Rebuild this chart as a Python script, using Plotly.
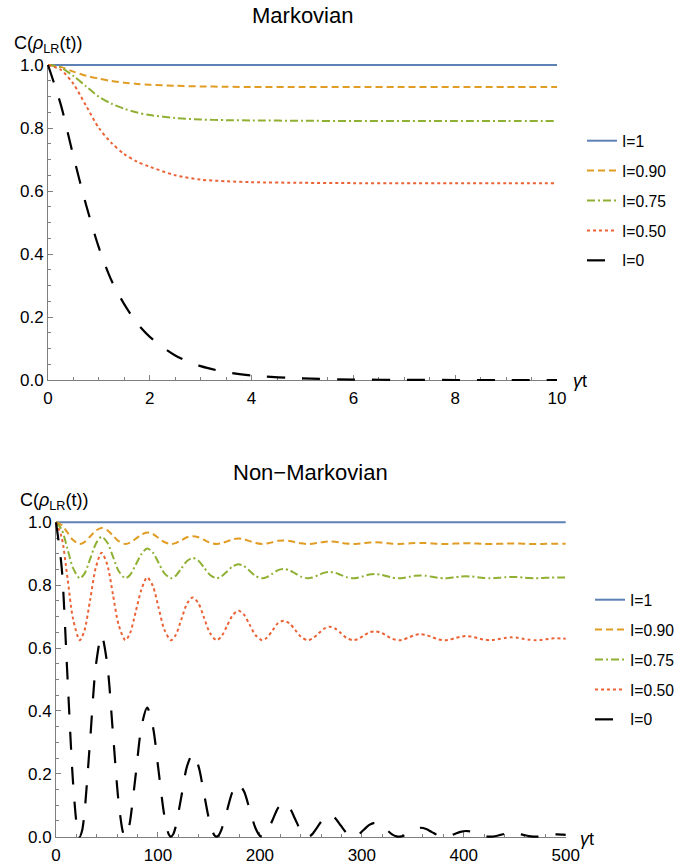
import plotly.graph_objects as go

# ---------------- Markovian panel (x = gamma t, 0..10) ----------------
mk_t = [0, 0.25, 0.5, 0.75, 1.0, 1.25, 1.5, 1.75, 2.0, 2.5, 3.0, 3.5, 4.0, 5.0, 6.0, 7.0, 8.0, 9.0, 10.0]
mk_I1_t = [0, 10]
mk_I1 = [1.0, 1.0]
mk_I090 = [1.0, 0.994, 0.979, 0.966, 0.957, 0.949, 0.944, 0.940, 0.937, 0.934, 0.932, 0.931,
           0.930, 0.930, 0.930, 0.930, 0.930, 0.930, 0.930]
mk_I075 = [1.0, 0.992, 0.965, 0.932, 0.899, 0.877, 0.861, 0.849, 0.841, 0.832, 0.827, 0.825,
           0.824, 0.823, 0.822, 0.822, 0.822, 0.822, 0.822]
mk_I050 = [1.0, 0.985, 0.940, 0.870, 0.800, 0.752, 0.717, 0.693, 0.677, 0.650, 0.636, 0.631,
           0.628, 0.626, 0.625, 0.625, 0.625, 0.625, 0.625]
mk_I0 = [1.0, 0.875, 0.710, 0.555, 0.420, 0.315, 0.240, 0.180, 0.137, 0.078, 0.044, 0.025,
         0.014, 0.005, 0.0015, 0.0005, 0.0, 0.0, 0.0]

# ---------------- Non-Markovian panel (x = gamma t, 0..500) ----------------
nm_I1_t = [0, 500]
nm_I1 = [1.0, 1.0]

nm_t = [
    0, 5.59, 11.18, 16.76, 23.35, 27.94, 33.53, 39.11,
    44.7, 50.29, 55.88, 61.46, 68.05, 72.64, 78.23, 83.81,
    89.4, 94.99, 100.58, 106.16, 112.75, 117.34, 122.93, 128.51,
    134.1, 139.69, 145.28, 150.86, 157.45, 162.04, 167.63, 173.21,
    178.8, 184.39, 189.98, 195.56, 202.15, 206.74, 212.33, 217.91,
    223.5, 229.09, 234.68, 240.26, 246.85, 251.44, 257.03, 262.61,
    268.2, 273.79, 279.38, 284.96, 291.55, 296.14, 301.73, 307.31,
    312.9, 318.49, 324.08, 329.66, 336.25, 340.84, 346.43, 352.01,
    357.6, 363.19, 368.78, 374.36, 380.95, 385.54, 391.13, 396.71,
    402.3, 407.89, 413.48, 419.06, 425.65, 430.24, 435.83, 441.41,
    447.0, 452.59, 458.18, 463.76, 470.35, 474.94, 480.53, 486.11,
    491.7, 497.29, 500,
]
nm_I090 = [
    1.0, 0.9911, 0.9677, 0.9434, 0.931, 0.9368, 0.9548, 0.9737,
    0.9821, 0.9751, 0.9577, 0.9399, 0.931, 0.9351, 0.9477, 0.9607,
    0.9678, 0.9628, 0.9502, 0.9374, 0.931, 0.9339, 0.943, 0.9524,
    0.956, 0.9526, 0.9441, 0.9354, 0.931, 0.933, 0.9392, 0.9456,
    0.9483, 0.946, 0.94, 0.934, 0.931, 0.9324, 0.9367, 0.9411,
    0.9424, 0.9408, 0.9369, 0.933, 0.931, 0.9319, 0.9347, 0.9376,
    0.9389, 0.9379, 0.9351, 0.9324, 0.931, 0.9316, 0.9336, 0.9356,
    0.9362, 0.9355, 0.9337, 0.9319, 0.931, 0.9314, 0.9327, 0.934,
    0.9345, 0.934, 0.9328, 0.9316, 0.931, 0.9313, 0.9322, 0.933,
    0.9334, 0.9331, 0.9323, 0.9314, 0.931, 0.9312, 0.9318, 0.9324,
    0.9327, 0.9324, 0.9319, 0.9313, 0.931, 0.9311, 0.9315, 0.932,
    0.9321, 0.932, 0.9318,
]
nm_I075 = [
    1.0, 0.9771, 0.9167, 0.854, 0.822, 0.8369, 0.8834, 0.9321,
    0.9539, 0.9359, 0.8909, 0.8451, 0.822, 0.8325, 0.8651, 0.8987,
    0.9169, 0.9039, 0.8716, 0.8386, 0.822, 0.8296, 0.853, 0.8771,
    0.8866, 0.8778, 0.8558, 0.8333, 0.822, 0.8272, 0.8431, 0.8596,
    0.8667, 0.8606, 0.8453, 0.8298, 0.822, 0.8256, 0.8366, 0.848,
    0.8514, 0.8474, 0.8373, 0.8271, 0.822, 0.8243, 0.8316, 0.8391,
    0.8425, 0.8397, 0.8327, 0.8256, 0.822, 0.8236, 0.8287, 0.8339,
    0.8354, 0.8335, 0.829, 0.8243, 0.822, 0.8231, 0.8264, 0.8298,
    0.8311, 0.8298, 0.8267, 0.8236, 0.822, 0.8227, 0.825, 0.8273,
    0.8282, 0.8274, 0.8253, 0.8231, 0.822, 0.8225, 0.824, 0.8256,
    0.8263, 0.8257, 0.8242, 0.8227, 0.822, 0.8223, 0.8234, 0.8245,
    0.8248, 0.8245, 0.8241,
]
nm_I050 = [
    1.0, 0.9517, 0.8245, 0.6923, 0.625, 0.6563, 0.7543, 0.857,
    0.9029, 0.8649, 0.7702, 0.6736, 0.625, 0.6472, 0.7158, 0.7865,
    0.8249, 0.7976, 0.7294, 0.6599, 0.625, 0.641, 0.6903, 0.7412,
    0.7611, 0.7425, 0.6961, 0.6488, 0.625, 0.6359, 0.6695, 0.7041,
    0.7191, 0.7063, 0.6742, 0.6415, 0.625, 0.6325, 0.6558, 0.6797,
    0.6869, 0.6784, 0.6573, 0.6358, 0.625, 0.63, 0.6452, 0.661,
    0.6681, 0.6622, 0.6475, 0.6325, 0.625, 0.6285, 0.6391, 0.6501,
    0.6531, 0.6493, 0.6397, 0.6299, 0.625, 0.6273, 0.6342, 0.6414,
    0.6441, 0.6415, 0.635, 0.6283, 0.625, 0.6265, 0.6313, 0.6361,
    0.6381, 0.6363, 0.6319, 0.6273, 0.625, 0.6261, 0.6293, 0.6326,
    0.634, 0.6328, 0.6297, 0.6266, 0.625, 0.6257, 0.6279, 0.6303,
    0.631, 0.6302, 0.6295,
]

nm_I0_t = [
    0, 5.59, 11.18, 16.76, 21.15, 23.35, 25.55, 27.94, 33.53, 39.11,
    44.7, 50.29, 55.88, 61.46, 65.85, 68.05, 70.25, 72.64, 78.23, 83.81,
    89.4, 94.99, 100.58, 106.16, 110.55, 112.75, 114.95, 117.34, 122.93, 128.51,
    134.1, 139.69, 145.28, 150.86, 155.25, 157.45, 159.65, 162.04, 167.63, 173.21,
    178.8, 184.39, 189.98, 195.56, 199.95, 202.15, 204.35, 206.74, 212.33, 217.91,
    223.5, 229.09, 234.68, 240.26, 244.65, 246.85, 249.05, 251.44, 257.03, 262.61,
    268.2, 273.79, 279.38, 284.96, 289.35, 291.55, 293.75, 296.14, 301.73, 307.31,
    312.9, 318.49, 324.08, 329.66, 334.05, 336.25, 338.45, 340.84, 346.43, 352.01,
    357.6, 363.19, 368.78, 374.36, 378.75, 380.95, 383.15, 385.54, 391.13, 396.71,
    402.3, 407.89, 413.48, 419.06, 423.45, 425.65, 427.85, 430.24, 435.83, 441.41,
    447.0, 452.59, 458.18, 463.76, 468.15, 470.35, 472.55, 474.94, 480.53, 486.11,
    491.7, 497.29, 500,
]
nm_I0 = [
    1.0, 0.8555, 0.5129, 0.1699, 0.0194, 0.0, 0.0186, 0.0762, 0.3091, 0.5448,
    0.6408, 0.5482, 0.3287, 0.1089, 0.0125, 0.0, 0.0119, 0.0488, 0.1981, 0.3491,
    0.4106, 0.3513, 0.2106, 0.0698, 0.0080, 0.0, 0.0076, 0.0313, 0.1269, 0.2237,
    0.2631, 0.2251, 0.1349, 0.0447, 0.0051, 0.0, 0.0049, 0.0200, 0.0813, 0.1433,
    0.1686, 0.1442, 0.0865, 0.0286, 0.0033, 0.0, 0.0031, 0.0128, 0.0521, 0.0919,
    0.1080, 0.0924, 0.0554, 0.0183, 0.0021, 0.0, 0.0020, 0.0082, 0.0334, 0.0588,
    0.0692, 0.0592, 0.0355, 0.0118, 0.0013, 0.0, 0.0013, 0.0053, 0.0214, 0.0377,
    0.0444, 0.0380, 0.0228, 0.0075, 0.0009, 0.0, 0.0008, 0.0034, 0.0137, 0.0242,
    0.0284, 0.0243, 0.0146, 0.0048, 0.0006, 0.0, 0.0005, 0.0022, 0.0088, 0.0155,
    0.0182, 0.0156, 0.0093, 0.0031, 0.0004, 0.0, 0.0003, 0.0014, 0.0056, 0.0099,
    0.0117, 0.0100, 0.0060, 0.0020, 0.0002, 0.0, 0.0002, 0.0009, 0.0036, 0.0064,
    0.0075, 0.0064, 0.0058,
]

series_names = ["I=1", "I=0.90", "I=0.75", "I=0.50", "I=0"]
x_ticks_top = [0, 2, 4, 6, 8, 10]
x_ticks_bottom = [0, 100, 200, 300, 400, 500]
y_ticks = [0.0, 0.2, 0.4, 0.6, 0.8, 1.0]

# ---------------- styling ----------------
W, H = 677, 866
FONT = "Liberation Sans, Arial, sans-serif"
AXIS_GRAY = "#7f7f7f"
STYLES = [
    dict(color="#5E81B5", width=2, dash="solid"),
    dict(color="#E19C24", width=2, dash="7px,4px"),
    dict(color="#8FB032", width=2, dash="8px,3px,2px,3px"),
    dict(color="#EB6235", width=2, dash="3px,3px"),
    dict(color="#000000", width=2.2, dash="18px,17px"),
]
PAD = 6  # extra room around each plot area so lines on the frame edges are not clipped

# pixel geometry of the two plot areas: left, right, y=1 row, y=0 row
PANELS = [
    dict(x0=48, x1=557, ytop=65, ybot=380, xmax=10, mdtick=0.5, ticks=x_ticks_top),
    dict(x0=56, x1=565.7, ytop=522.3, ybot=836.7, xmax=500, mdtick=20, ticks=x_ticks_bottom),
]

fig = go.Figure()
layout = dict(
    width=W, height=H,
    margin=dict(l=0, r=0, t=0, b=0, autoexpand=False),
    paper_bgcolor="white",
    plot_bgcolor="rgba(0,0,0,0)",
    font=dict(family=FONT, color="black"),
    showlegend=True,
)

for i, p in enumerate(PANELS):
    fx, fy = ("x", "y") if i == 0 else ("x2", "y2")
    dx, dy = ("x3", "y3") if i == 0 else ("x4", "y4")
    xpx = (p["x1"] - p["x0"]) / p["xmax"]
    ypx = p["ybot"] - p["ytop"]
    common = dict(showline=True, linecolor=AXIS_GRAY, linewidth=1, ticks="inside",
                  ticklen=5, tickwidth=1, tickcolor=AXIS_GRAY, showgrid=False,
                  zeroline=False, fixedrange=True,
                  tickfont=dict(size=17, family=FONT, color="black"))
    layout["xaxis" + ("" if i == 0 else "2")] = dict(
        common, domain=[p["x0"] / W, p["x1"] / W], range=[0, p["xmax"]], anchor=fy,
        tickmode="array", tickvals=p["ticks"], ticktext=[str(v) for v in p["ticks"]],
        ticklabelstandoff=3,
        minor=dict(ticks="inside", ticklen=3, tickcolor=AXIS_GRAY, dtick=p["mdtick"], tick0=0),
    )
    layout["yaxis" + ("" if i == 0 else "2")] = dict(
        common, domain=[(H - p["ybot"]) / H, (H - p["ytop"]) / H], range=[0, 1], anchor=fx,
        tickmode="array", tickvals=y_ticks, ticktext=[f"{v:.1f}" for v in y_ticks],
        minor=dict(ticks="inside", ticklen=3, tickcolor=AXIS_GRAY, dtick=0.05, tick0=0),
    )
    layout["xaxis" + dx[1:]] = dict(
        domain=[(p["x0"] - PAD) / W, (p["x1"] + PAD) / W],
        range=[-PAD / xpx, p["xmax"] + PAD / xpx], anchor=dy, visible=False, fixedrange=True,
    )
    layout["yaxis" + dy[1:]] = dict(
        domain=[(H - p["ybot"] - PAD) / H, (H - p["ytop"] + PAD) / H],
        range=[-PAD / ypx, 1 + PAD / ypx], anchor=dx, visible=False, fixedrange=True,
    )
    fig.add_trace(go.Scatter(x=[None], y=[None], xaxis=fx, yaxis=fy, showlegend=False,
                             hoverinfo="skip"))

top_series = [(mk_I1_t, mk_I1), (mk_t, mk_I090), (mk_t, mk_I075), (mk_t, mk_I050), (mk_t, mk_I0)]
bottom_series = [(nm_I1_t, nm_I1), (nm_t, nm_I090), (nm_t, nm_I075), (nm_t, nm_I050), (nm_I0_t, nm_I0)]

for series, xa, ya, leg in [(top_series, "x3", "y3", "legend"), (bottom_series, "x4", "y4", "legend2")]:
    for k, ((xs, ys), name, st) in enumerate(zip(series, series_names, STYLES)):
        fig.add_trace(go.Scatter(
            x=xs, y=ys, mode="lines", name=name, xaxis=xa, yaxis=ya,
            line=dict(color=st["color"], width=st["width"], dash=st["dash"],
                      shape="spline", smoothing=0.8),
            legend=leg, legendgroup=f"{leg}-{k}", hoverinfo="skip",
        ))

legend_common = dict(xanchor="left", yanchor="top", bgcolor="rgba(0,0,0,0)",
                     font=dict(size=15.7, family=FONT, color="black"),
                     tracegroupgap=6.5, itemwidth=30, traceorder="grouped")
layout["legend"] = dict(legend_common, x=582 / W, y=1 - 124 / H)
layout["legend2"] = dict(legend_common, x=590 / W, y=1 - 583 / H)

layout["annotations"] = [
    dict(text="Markovian", x=302.3 / W, y=1 - 15 / H, xref="paper", yref="paper",
         xanchor="center", yanchor="middle", showarrow=False, font=dict(size=22)),
    dict(text="Non\u2212Markovian", x=310.5 / W, y=1 - 472 / H, xref="paper", yref="paper",
         xanchor="center", yanchor="middle", showarrow=False, font=dict(size=22)),
    dict(text="C(<i>ρ</i><sub>LR</sub>(t))", x=12.3 / W, y=1 - 45 / H, xref="paper",
         yref="paper", xanchor="left", yanchor="middle", showarrow=False, font=dict(size=18)),
    dict(text="C(<i>ρ</i><sub>LR</sub>(t))", x=18.3 / W, y=1 - 501.5 / H, xref="paper",
         yref="paper", xanchor="left", yanchor="middle", showarrow=False, font=dict(size=18)),
    dict(text="<i>γ</i>t", x=570.7 / W, y=1 - 381 / H, xref="paper", yref="paper",
         xanchor="left", yanchor="middle", showarrow=False, font=dict(size=18)),
    dict(text="<i>γ</i>t", x=578.3 / W, y=1 - 839 / H, xref="paper", yref="paper",
         xanchor="left", yanchor="middle", showarrow=False, font=dict(size=18)),
]

fig.update_layout(**layout)
# the page body keeps no margin so the 677x866 figure fills the window exactly
fig.write_html("out.html", config={"displayModeBar": False},
               post_script="document.body.style.margin='0';")
